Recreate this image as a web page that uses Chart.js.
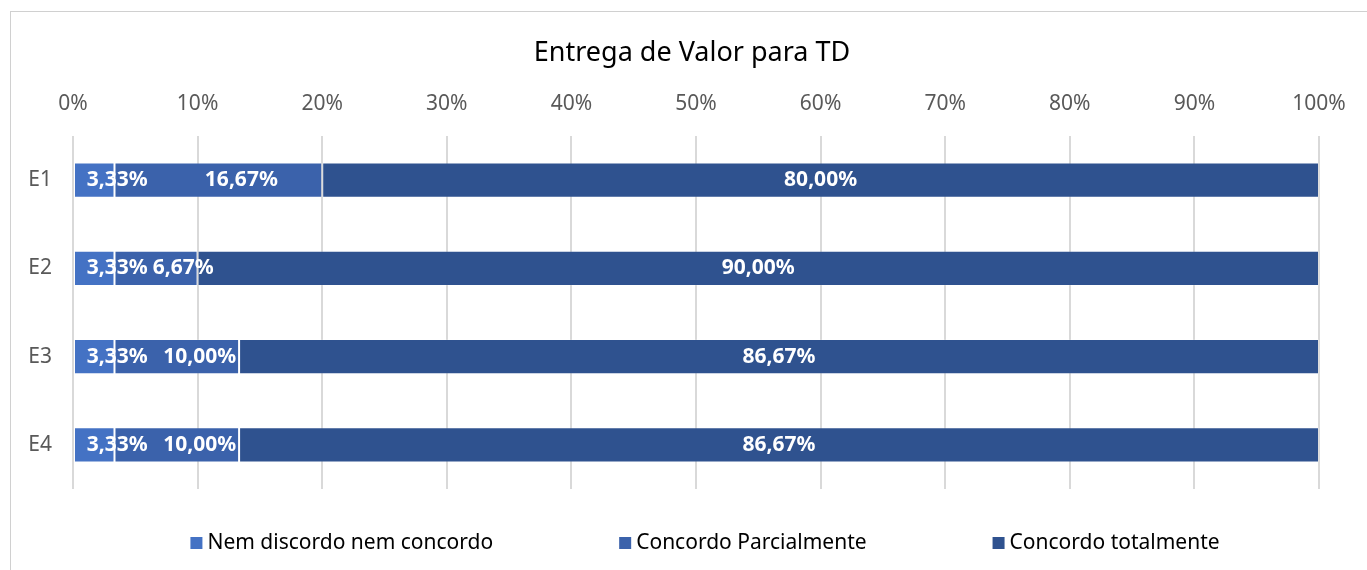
<!DOCTYPE html>
<html>
<head>
<meta charset="utf-8">
<script src="https://cdn.jsdelivr.net/npm/chart.js@4.4.1/dist/chart.umd.min.js"></script>
<style>
    html, body { margin: 0; padding: 0; background: #fff; overflow: hidden; }
    #wrap { position: absolute; left: 0; top: 0; width: 1367px; height: 570px; }
    #frame { position: absolute; left: 10px; top: 11px; width: 1400px; height: 600px; border-left: 1px solid #D0D0D0; border-top: 1px solid #D0D0D0; }
</style>
</head>
<body>
<div id="wrap">
    <div id="frame"></div>
    <canvas id="valorChart" width="1367" height="570"></canvas>
</div>
<script>
const categories = ['E1', 'E2', 'E3', 'E4'];
const seriesNames = ['Nem discordo nem concordo', 'Concordo Parcialmente', 'Concordo totalmente'];
const nemDiscordo = [3.33, 3.33, 3.33, 3.33];
const parcialmente = [16.67, 6.67, 10.00, 10.00];
const totalmente = [80.00, 90.00, 86.67, 86.67];
const xTicks = [0, 10, 20, 30, 40, 50, 60, 70, 80, 90, 100];
const chartTitle = 'Entrega de Valor para TD';

const colors = ['#4472C4', '#3B62AB', '#2F528F'];
const FONT = "'Noto Sans', 'Liberation Sans', sans-serif";

function fmtPct(v) {
    return v.toFixed(2).replace('.', ',') + '%';
}

// white value labels inside each bar segment
const segmentLabels = {
    id: 'segmentLabels',
    afterDatasetsDraw(chart) {
        const ctx = chart.ctx;
        ctx.save();
        ctx.font = 'bold 21px ' + FONT;
        ctx.fillStyle = '#FFFFFF';
        ctx.textAlign = 'center';
        ctx.textBaseline = 'middle';
        const lastRight = {};
        chart.data.datasets.forEach((ds, di) => {
            const meta = chart.getDatasetMeta(di);
            meta.data.forEach((bar, i) => {
                const left = Math.min(bar.x, bar.base);
                const right = Math.max(bar.x, bar.base);
                const txt = fmtPct(ds.data[i]);
                const w = ctx.measureText(txt).width;
                let cx = (left + right) / 2;
                if (di < 2) cx += 23;   // small segments: Excel nudges labels right
                if (lastRight[i] !== undefined) cx = Math.max(cx, lastRight[i] + 5 + w / 2);
                lastRight[i] = cx + w / 2;
                ctx.fillText(txt, cx, bar.y);
            });
        });
        ctx.restore();
    }
};

// title and legend drawn by hand (centred over the plot, wide legend gaps)
const titleAndLegend = {
    id: 'titleAndLegend',
    afterDraw(chart) {
        const ctx = chart.ctx;
        const area = chart.chartArea;
        const mid = (area.left + area.right) / 2;
        ctx.save();
        ctx.textBaseline = 'middle';
        ctx.textAlign = 'center';
        ctx.fillStyle = '#000000';
        ctx.font = '27px ' + FONT;
        ctx.fillText(chartTitle, mid - 4, 53);

        const gap = 126, box = 12, textGap = 5;
        ctx.font = '21px ' + FONT;
        ctx.textAlign = 'left';
        const widths = seriesNames.map(n => box + textGap + ctx.measureText(n).width);
        const total = widths.reduce((a, b) => a + b, 0) + gap * (widths.length - 1);
        let x = mid + 9 - total / 2;
        const y = 543;
        seriesNames.forEach((n, i) => {
            ctx.fillStyle = colors[i];
            ctx.fillRect(x, y - box / 2, box, box);
            ctx.fillStyle = '#000000';
            ctx.fillText(n, x + box + textGap, y);
            x += widths[i] + gap;
        });
        ctx.restore();
    }
};

const ctx = document.getElementById('valorChart').getContext('2d');
new Chart(ctx, {
    type: 'bar',
    data: {
        labels: categories,
        datasets: [nemDiscordo, parcialmente, totalmente].map((d, i) => ({
            label: seriesNames[i],
            data: d,
            backgroundColor: colors[i],
            borderColor: 'rgba(255,255,255,0.14)',
            borderWidth: 1,
            borderSkipped: false,
            barPercentage: 0.4,
            categoryPercentage: 1.0
        }))
    },
    options: {
        indexAxis: 'y',
        responsive: false,
        animation: false,
        layout: { padding: { left: 0, right: 48, top: 77, bottom: 81 } },
        plugins: {
            title: { display: false },
            legend: { display: false },
            tooltip: { enabled: false }
        },
        scales: {
            x: {
                position: 'top',
                stacked: true,
                min: 0,
                max: 100,
                afterBuildTicks: axis => { axis.ticks = xTicks.map(v => ({ value: v })); },
                afterFit: axis => { axis.height = 59; },
                ticks: {
                    color: '#595959',
                    font: { family: FONT, size: 21 },
                    padding: 19,
                    callback: v => v + '%'
                },
                grid: { color: '#D9D9D9', lineWidth: 2, drawTicks: false },
                border: { display: false }
            },
            y: {
                stacked: true,
                afterFit: axis => { axis.width = 73; },
                ticks: {
                    color: '#595959',
                    font: { family: FONT, size: 21 },
                    padding: 21
                },
                grid: { display: false, drawTicks: false },
                border: { display: false }
            }
        }
    },
    plugins: [segmentLabels, titleAndLegend]
});
</script>
</body>
</html>
